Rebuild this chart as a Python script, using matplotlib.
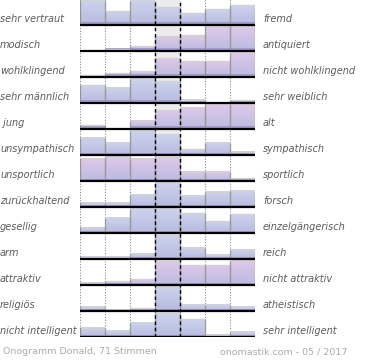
import numpy as np
import matplotlib.pyplot as plt
from matplotlib.colors import to_rgb

links = ["sehr vertraut", "modisch", "wohlklingend", "sehr männlich", " jung",
         "unsympathisch", "unsportlich", "zurückhaltend", "gesellig", "arm",
         "attraktiv", "religiös", "nicht intelligent"]
rechts = ["fremd", "antiquiert", "nicht wohlklingend", "sehr weiblich", "alt",
          "sympathisch", "sportlich", "forsch", "einzelgängerisch", "reich",
          "nicht attraktiv", "atheistisch", "sehr intelligent"]

# relative Balkenhoehe je Stufe 1..7 (25 = hoechster Balken der Zeile)
werte = [
    [24.5, 14, 24.5, 18, 12, 16, 20],
    [0, 2.5, 5, 15, 16, 25, 25],
    [2, 4, 6, 19, 16, 16, 24.5],
    [18, 15.5, 24.5, 22, 3.5, 0, 3],
    [4, 0, 8.5, 19, 21.5, 25, 25],
    [17.5, 12.5, 24.5, 21, 6, 12.5, 3.5],
    [22.5, 24.5, 22.5, 24, 9.5, 9.5, 3],
    [4.5, 4.5, 12.5, 24.5, 11.5, 15.5, 16.5],
    [6, 15.5, 24.5, 24.5, 20, 12, 19],
    [2.5, 2.5, 5.5, 24, 11.5, 4.5, 9.5],
    [2.5, 4, 6, 23.5, 20, 20, 24.5],
    [4.5, 1.5, 3, 24.5, 6.5, 6.5, 4.5],
    [9.5, 6.5, 14.5, 24, 18, 2.5, 5.5],
]
rosa = [False, True, True, False, True, False, True, False, False, False, True, False, False]

stimmen = 71
fusszeile_links = f"Onogramm Donald, {stimmen} Stimmen"
fusszeile_rechts = "onomastik.com - 05 / 2017"

zeile = 26.0  # px pro Zeile
n = len(links)

fig = plt.figure(figsize=(3.7, 3.6), dpi=100)
ax = fig.add_axes([80 / 370, 23 / 360, 175 / 370, n * zeile / 360])


def verlauf(oben, unten, steps=32):
    a, b = np.array(to_rgb(oben)), np.array(to_rgb(unten))
    t = np.linspace(0, 1, steps)[:, None]
    return (a * (1 - t) + b * t)[:, None, :]


blau = verlauf("#ccd3ed", "#b7bbe0")
lila = verlauf("#dfc9e8", "#babbe1")

ax.axvspan(3, 4, color="#ececec", zorder=0)

for i, row in enumerate(werte):
    y0 = n - 1 - i
    grad = lila if rosa[i] else blau
    for c, v in enumerate(row):
        if v <= 0:
            continue
        h = v / zeile
        ax.imshow(grad, extent=(c, c + 1, y0, y0 + h), aspect="auto", zorder=2,
                  interpolation="bilinear")
        ax.bar(c + 0.5, min(h, 2.5 / zeile), width=1, bottom=y0, color="#a39bca",
               linewidth=0, zorder=2.5)
        ax.hlines(y0 + h, c, c + 1, color="#d2d2d2", linewidth=1.0, zorder=3)
        ax.vlines([c, c + 1], y0, y0 + h, color="#9a9a9a", linewidth=0.9, zorder=3)
    ax.hlines(y0, 0, 7, color="black", linewidth=1.6, zorder=5)
    ax.text(-80 / 25, y0 + 0.25, links[i], ha="left", va="center", fontsize=7,
            style="italic", color="#5c5c5c", clip_on=False)
    ax.text(7 + 8 / 25, y0 + 0.25, rechts[i], ha="left", va="center", fontsize=7,
            style="italic", color="#5c5c5c", clip_on=False)

for x in [0, 1, 2, 5, 6]:
    ax.axvline(x, color="#8c8c8c", linestyle=(0, (1, 1.5)), linewidth=0.8, zorder=1 if x else 4)
for x in [3, 4]:
    ax.axvline(x, color="black", linestyle=(0, (2.5, 2)), linewidth=1.0, zorder=4)

ax.set_xlim(0, 7)
ax.set_ylim(0, n)
ax.axis("off")

fig.text(0.008, 1 - 352 / 360, fusszeile_links, ha="left", va="center", fontsize=6.8,
         color="#ababab")
fig.text(220 / 370, 1 - 352 / 360, fusszeile_rechts, ha="left", va="center", fontsize=6.8,
         color="#ababab")

fig.savefig("out.png", dpi=100)
